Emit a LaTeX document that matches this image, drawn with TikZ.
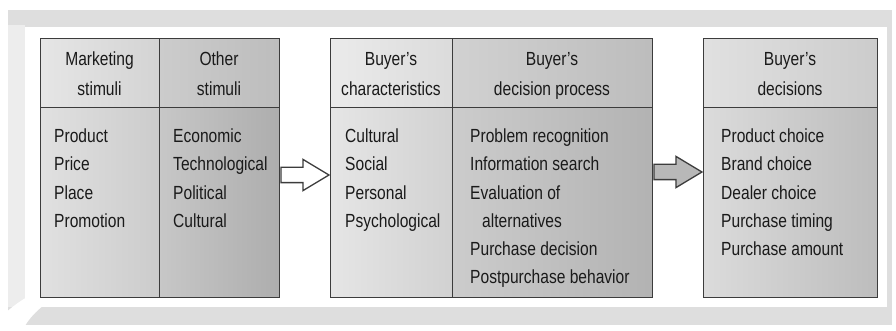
\documentclass[tikz,border=0pt]{standalone}
\usepackage{fontspec}
\setmainfont{Liberation Sans}[FakeStretch=0.82]
\usetikzlibrary{shapes.arrows}
\definecolor{ink}{HTML}{1A1A1A}
\definecolor{edge}{HTML}{3C3C3C}
\tikzset{
  cell/.style={draw=edge, line width=1.3pt, rectangle, anchor=north west, inner sep=0pt},
  txt/.style={text=ink, font=\fontsize{19}{28}\selectfont, inner sep=0pt},
  item/.style={txt, anchor=base west},
  head/.style={txt, anchor=base},
  blockarrow/.style={single arrow, draw=edge, line width=1.3pt, anchor=tail,
    minimum height=48pt, minimum width=0pt, inner xsep=0pt, inner ysep=7pt,
    single arrow head extend=8pt, single arrow tip angle=62},
}
\begin{document}
\begin{tikzpicture}[x=1pt,y=-1pt]
\useasboundingbox (0,0) rectangle (896,331);
% frame
\fill[white] (0,0) rectangle (896,331);
\fill[black!13] (8,10) rectangle (892,325);
\fill[black!7] (8,25) rectangle (25,307);
\fill[white] (25,27) rectangle (887,307);
\fill[white] (0,331) -- (0,318) .. controls (18,300) and (38,290) .. (56,284)
  -- (60,296) .. controls (45,302) and (30,315) .. (22,331) -- cycle;
% box 1
\node[cell, minimum width=119pt, minimum height=69pt, left color=black!10, right color=black!17] (b1h1) at (40,38) {};
\node[cell, minimum width=120pt, minimum height=69pt, left color=black!20, right color=black!26] (b1h2) at (159,38) {};
\node[cell, minimum width=119pt, minimum height=190pt, left color=black!12, right color=black!20] (b1c1) at (40,107) {};
\node[cell, minimum width=120pt, minimum height=190pt, left color=black!22, right color=black!32] (b1c2) at (159,107) {};
% box 2
\node[cell, minimum width=122pt, minimum height=69pt, left color=black!8, right color=black!14] (b2h1) at (330,38) {};
\node[cell, minimum width=200pt, minimum height=69pt, left color=black!18, right color=black!26] (b2h2) at (452,38) {};
\node[cell, minimum width=122pt, minimum height=190pt, left color=black!10, right color=black!18] (b2c1) at (330,107) {};
\node[cell, minimum width=200pt, minimum height=190pt, left color=black!20, right color=black!30] (b2c2) at (452,107) {};
% box 3
\node[cell, minimum width=174pt, minimum height=69pt, left color=black!12, right color=black!20] (b3h) at (703,38) {};
\node[cell, minimum width=174pt, minimum height=190pt, left color=black!14, right color=black!26] (b3c) at (703,107) {};
% arrows
\coordinate (a1) at (0,175);
\coordinate (a2) at (0,172);
\node[blockarrow, fill=white] (arr1) at (b1c2.east |- a1) {};
\node[blockarrow, fill=black!28] (arr2) at (b2c2.east |- a2) {};
% headers
\node[head] (t11) at (99.5,66) {Marketing};
\node[head] (t12) at (99.5,96) {stimuli};
\node[head] (t21) at (219,66) {Other};
\node[head] (t22) at (219,96) {stimuli};
\node[head] (t31) at (391,66) {Buyer's};
\node[head] (t32) at (391,96) {characteristics};
\node[head] (t41) at (552,66) {Buyer's};
\node[head] (t42) at (552,96) {decision process};
\node[head] (t51) at (790,66) {Buyer's};
\node[head] (t52) at (790,96) {decisions};
% lists
\foreach \t [count=\i] in {Product,Price,Place,Promotion}
  \node[item] (p\i) at (54,{143+28*(\i-1)}) {\t};
\foreach \t [count=\i] in {Economic,Technological,Political,Cultural}
  \node[item] (o\i) at (173,{143+28*(\i-1)}) {\t};
\foreach \t [count=\i] in {Cultural,Social,Personal,Psychological}
  \node[item] (c\i) at (345,{143+28*(\i-1)}) {\t};
\node[item] (d1) at (470,143) {Problem recognition};
\node[item] (d2) at (470,171) {Information search};
\node[item] (d3) at (470,199) {Evaluation of};
\node[item] (d4) at (482,227) {alternatives};
\node[item] (d5) at (470,255) {Purchase decision};
\node[item] (d6) at (470,283) {Postpurchase behavior};
\foreach \t [count=\i] in {Product choice,Brand choice,Dealer choice,Purchase timing,Purchase amount}
  \node[item] (e\i) at (721,{143+28*(\i-1)}) {\t};
\end{tikzpicture}
\end{document}
